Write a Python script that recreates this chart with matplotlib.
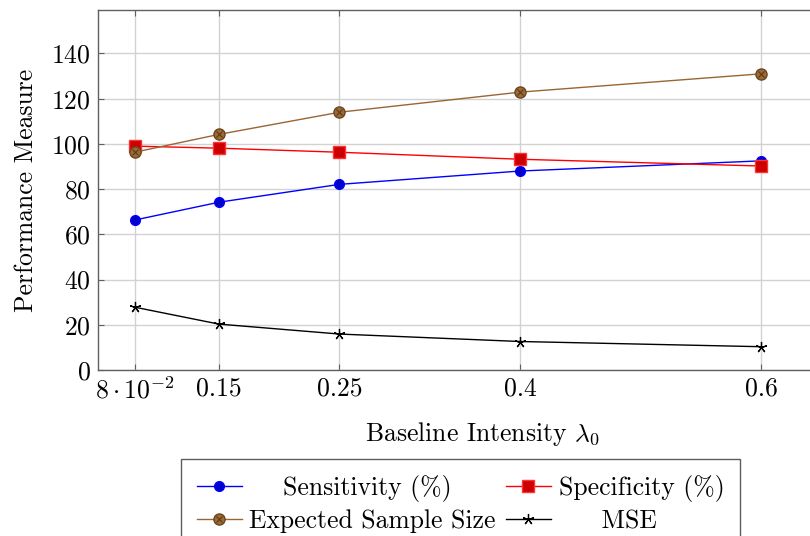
import matplotlib
matplotlib.use('Agg')
import matplotlib.pyplot as plt

plt.rcParams['font.family'] = 'cmr10'
plt.rcParams['mathtext.fontset'] = 'cm'
plt.rcParams['axes.formatter.use_mathtext'] = True
plt.rcParams['font.size'] = 18.5

# data
lam0 = [0.08, 0.15, 0.25, 0.4, 0.6]
x_labels = [r'$8\cdot10^{-2}$', '0.15', '0.25', '0.4', '0.6']
sensitivity = [66.3, 74.2, 82.1, 88.0, 92.5]
specificity = [99.0, 98.1, 96.3, 93.2, 90.2]
sample_size = [96.3, 104.2, 114.0, 122.9, 131.0]
mse = [27.8, 20.3, 15.9, 12.6, 10.3]
y_ticks = [0, 20, 40, 60, 80, 100, 120, 140]

fig = plt.figure(figsize=(8.1, 5.36), dpi=100)
ax = fig.add_axes([0.121, 0.3097, 0.95, 0.6716])

l1, = ax.plot(lam0, sensitivity, color='#0000ff', lw=1.0, marker='o',
              ms=7, mfc='#0000cc', mec='#0000ff')
l2, = ax.plot(lam0, specificity, color='#ff0000', lw=1.0, marker='s',
              ms=8, mfc='#cc0000', mec='#ff3333')
l3, = ax.plot(lam0, sample_size, color='#996633', lw=1.0, marker='o',
              ms=8, mfc='#9c6a35', mec='#6b4520')
l3x, = ax.plot(lam0, sample_size, ls='none', marker='x', ms=5,
               mec='#5a3a1a', mew=0.8)
l4, = ax.plot(lam0, mse, color='black', lw=1.0, marker=(5, 2, 0),
              ms=8, mew=0.9, mec='black')

ax.set_xlim(0.0497, 0.688)
ax.set_ylim(0, 159.2)
ax.set_xticks(lam0)
ax.set_xticklabels(x_labels)
ax.set_yticks(y_ticks)

ax.grid(True, color='#d2d2d2', lw=1.0)
ax.set_axisbelow(True)
for s in ax.spines.values():
    s.set_color('#606060')
    s.set_linewidth(1.0)
ax.tick_params(direction='in', length=4, width=0.8, color='#606060',
               top=True, right=True, pad=5)

ax.set_xlabel(r'Baseline Intensity $\lambda_0$', labelpad=12)
ax.set_ylabel('Performance Measure', labelpad=10)

# ncol=2 fills column-wise, so order handles to get rows (Sens, Spec), (ESS, MSE)
handles = [l1, (l3, l3x), l2, l4]
labels = ['    Sensitivity (%)', 'Expected Sample Size',
          'Specificity (%)', '     MSE']
leg = fig.legend(handles, labels, ncol=2, loc='upper center',
                 bbox_to_anchor=(0.5685, 0.143), frameon=True, fancybox=False,
                 edgecolor='#333333', handlelength=1.75, handletextpad=0.3,
                 columnspacing=0.4, labelspacing=0.3, borderpad=0.6,
                 borderaxespad=0)
leg.get_frame().set_linewidth(1.0)

fig.savefig('out.png', dpi=100)
